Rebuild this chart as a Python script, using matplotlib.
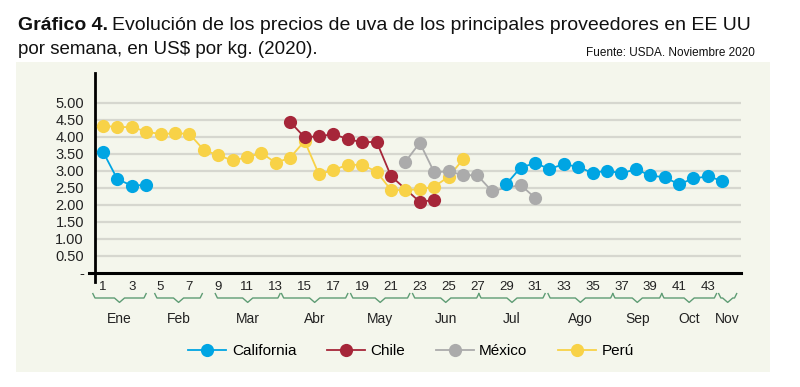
import matplotlib
matplotlib.use('Agg')
import matplotlib.pyplot as plt
import matplotlib.transforms as mtransforms
from matplotlib.patches import Rectangle
from matplotlib.lines import Line2D

plt.rcParams['font.family'] = ['Liberation Sans', 'DejaVu Sans']

# --------------------------------------------------------------------------------
# Data (US$ por kg, por semana)
aWeekCal = [1, 2, 3, 4, 29, 30, 31, 32, 33, 34, 35, 36, 37, 38, 39, 40, 41, 42, 43, 44]
aValCal = [3.57, 2.76, 2.57, 2.59, 2.61, 3.10, 3.23, 3.06, 3.20, 3.12, 2.94, 3.01,
           2.93, 3.05, 2.87, 2.81, 2.61, 2.78, 2.84, 2.71]
aSegCal = [4, 16]  # number of points in each continuous segment

aWeekChl = [14, 15, 16, 17, 18, 19, 20, 21, 23, 24]
aValChl = [4.44, 3.99, 4.02, 4.08, 3.94, 3.84, 3.86, 2.85, 2.09, 2.15]

aWeekMex = [22, 23, 24, 25, 26, 27, 28, 30, 31]
aValMex = [3.27, 3.83, 2.96, 2.99, 2.88, 2.87, 2.41, 2.59, 2.21]

aWeekPer = list(range(1, 27))
aValPer = [4.33, 4.29, 4.29, 4.16, 4.08, 4.11, 4.09, 3.62, 3.46, 3.31, 3.40, 3.53,
           3.24, 3.39, 3.88, 2.90, 3.03, 3.18, 3.18, 2.98, 2.44, 2.44, 2.46, 2.54,
           2.83, 3.34]

aTickWeek = list(range(1, 44, 2))
aYTicks = [0, 0.5, 1.0, 1.5, 2.0, 2.5, 3.0, 3.5, 4.0, 4.5, 5.0]
aYLabels = ['-', '0.50', '1.00', '1.50', '2.00', '2.50', '3.00', '3.50', '4.00', '4.50', '5.00']

# month label, start week, end week
aMonth = ['Ene', 'Feb', 'Mar', 'Abr', 'May', 'Jun', 'Jul', 'Ago', 'Sep', 'Oct', 'Nov']
aMonthStart = [0.3, 4.6, 8.8, 13.4, 18.2, 22.5, 27.1, 31.9, 36.4, 39.8, 43.75]
aMonthEnd = [4.0, 7.9, 13.3, 18.0, 22.3, 27.1, 31.7, 36.4, 39.8, 43.6, 45.0]
# --------------------------------------------------------------------------------

sColCal = '#00a5e3'
sColChl = '#a62639'
sColMex = '#ababab'
sColPer = '#f8d247'
sColBracket = '#5e9c74'

oFig = plt.figure(figsize=(8.0, 3.87), dpi=100)
oFig.patch.set_facecolor('white')
oFig.patches.append(Rectangle((16 / 800, 1 - 372 / 387), 754 / 800, 310 / 387,
                              transform=oFig.transFigure, facecolor='#f4f6ec',
                              edgecolor='none', zorder=-10))

oAx = oFig.add_axes([95 / 800, 114 / 387, 646 / 800, 200 / 387])
oAx.set_zorder(2)
oAx.set_facecolor('none')
oAx.set_xlim(0.45, 45.3)
oAx.set_ylim(0, 5.88)

# Grid
for dY in aYTicks[1:]:
    oAx.axhline(dY, color='#d6d7cf', lw=1.6, zorder=1)

# Lines (below all markers)
dMs = 9.5
iStart = 0
for iN in aSegCal:
    oAx.plot(aWeekCal[iStart:iStart + iN], aValCal[iStart:iStart + iN], color=sColCal, lw=1.3, zorder=2)
    iStart += iN
oAx.plot(aWeekChl, aValChl, color=sColChl, lw=1.3, zorder=2)
oAx.plot(aWeekMex, aValMex, color=sColMex, lw=1.3, zorder=2)
oAx.plot(aWeekPer, aValPer, color=sColPer, lw=1.3, zorder=2)

# Markers
oAx.plot(aWeekPer, aValPer, 'o', color=sColPer, ms=dMs, mec='none', zorder=3)
oAx.plot(aWeekChl, aValChl, 'o', color=sColChl, ms=dMs, mec='none', zorder=4)
oAx.plot(aWeekMex, aValMex, 'o', color=sColMex, ms=dMs, mec='none', zorder=5)
oAx.plot(aWeekCal, aValCal, 'o', color=sColCal, ms=dMs, mec='none', zorder=6)

# Axes style
for sSide in ['top', 'right']:
    oAx.spines[sSide].set_visible(False)
oAx.spines['left'].set_linewidth(2.0)
oAx.spines['bottom'].set_linewidth(2.2)
oAx.spines['left'].set_bounds(-0.25, 5.88)
oAx.spines['bottom'].set_bounds(0.0, 45.3)

oAx.set_yticks(aYTicks)
oAx.set_yticklabels(aYLabels, fontsize=10.5, color='#222222')
oAx.set_xticks(aTickWeek)
oAx.set_xticklabels([str(i) for i in aTickWeek], fontsize=9.5, color='#222222')
oAx.tick_params(axis='both', length=0)
oAx.tick_params(axis='x', pad=6)
oAx.tick_params(axis='y', pad=8)

# Month brackets
oTrans = mtransforms.blended_transform_factory(oAx.transData, oAx.transAxes)
dYb = -0.125
dH = 0.022
for sName, dS, dE in zip(aMonth, aMonthStart, aMonthEnd):
    dM = (dS + dE) / 2.0
    dW = 0.35
    aX = [dS, dS + 0.15, dM - dW, dM, dM + dW, dE - 0.15, dE]
    aY = [dYb + dH, dYb, dYb, dYb - dH, dYb, dYb, dYb + dH]
    oAx.add_line(Line2D(aX, aY, transform=oTrans, color=sColBracket, lw=1.0, clip_on=False))
    oAx.text(dM, -0.232, sName, transform=oTrans, ha='center', va='center',
             fontsize=10, color='#222222')

# Legend
aHandles = [Line2D([], [], color=c, lw=1.3, marker='o', ms=dMs, mec='none')
            for c in [sColCal, sColChl, sColMex, sColPer]]
oFig.legend(aHandles, ['California', 'Chile', 'México', 'Perú'], loc='center',
            bbox_to_anchor=(411 / 800, 1 - 351 / 387), ncol=4, frameon=False,
            fontsize=11, handlelength=2.5, handletextpad=0.35, columnspacing=2.0)

# Title
oRenderer = oFig.canvas.get_renderer()
oT1 = oFig.text(18 / 800, 1 - 30 / 387, 'Gráfico 4.', fontsize=14, fontweight='bold',
                color='#111111', ha='left', va='baseline')
oBox = oT1.get_window_extent(renderer=oRenderer)
oFig.text(oBox.x1 / 800 + 4 / 800, 1 - 30 / 387,
          'Evolución de los precios de uva de los principales proveedores en EE UU',
          fontsize=14, color='#111111', ha='left', va='baseline')
oFig.text(18 / 800, 1 - 54 / 387, 'por semana, en US$ por kg. (2020).', fontsize=13.5,
          color='#111111', ha='left', va='baseline')
oFig.text(755 / 800, 1 - 56 / 387, 'Fuente: USDA. Noviembre 2020', fontsize=8.5,
          color='#111111', ha='right', va='baseline')

oFig.savefig('out.png', dpi=100, facecolor='white')
